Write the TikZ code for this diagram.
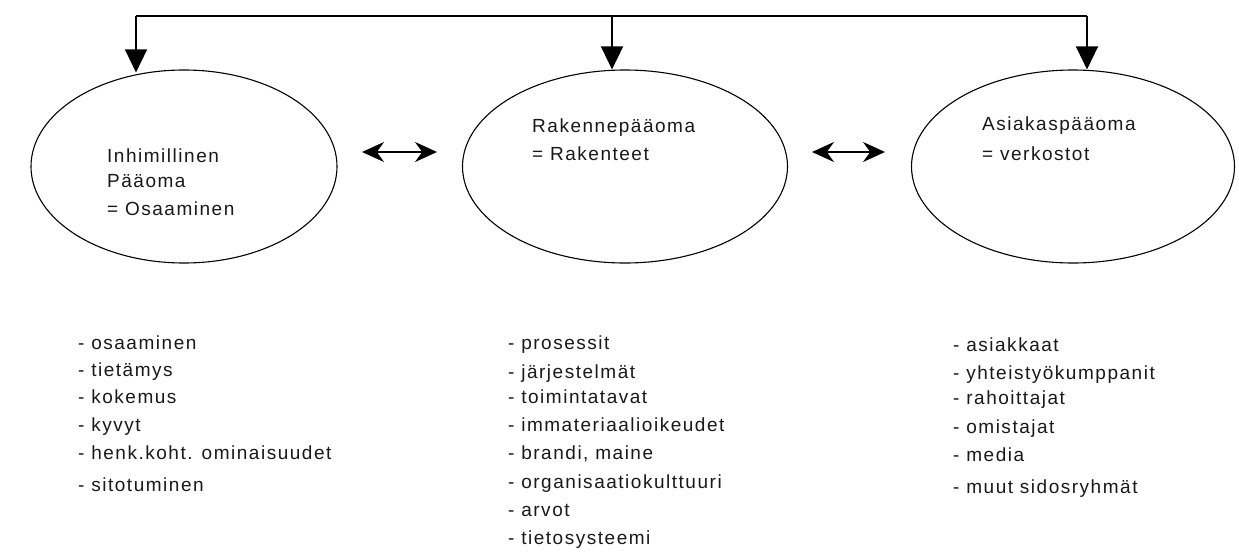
\documentclass[tikz,border=0pt]{standalone}
\usepackage{fontspec}
\setmainfont[LetterSpace=8]{Liberation Sans}
\usetikzlibrary{shapes.geometric,arrows.meta}
\tikzset{
  oval/.style={draw=black, line width=1.1pt, ellipse, inner sep=0pt, minimum width=#1, minimum height=193pt},
  txt/.style={anchor=base west, inner sep=0pt, font=\fontsize{19}{23}\selectfont, text=black!90},
  downarrow/.style={line width=1.3pt, -{Triangle[width=22pt,length=23pt]}},
  twoway/.style={line width=2pt, {Stealth[length=22pt,width=20pt]}-{Stealth[length=22pt,width=20pt]}},
  topline/.style={line width=1.3pt}
}
\begin{document}
\begin{tikzpicture}[x=1pt,y=-1pt]
\useasboundingbox[fill=white] (0,0) rectangle (1239,552);
% ellipses
\node[oval=306pt] (e1) at (184,166.5) {};
\node[oval=325pt] (e2) at (625,166.5) {};
\node[oval=323pt] (e3) at (1073,166.5) {};
% top distribution line
\coordinate (c1) at (136,16);
\coordinate (c2) at (612,16);
\coordinate (c3) at (1087,16);
\draw[topline] (c1) -- (c3);
\draw[downarrow] (c1) -- ([yshift=-3pt]c1 |- e1.north);
\draw[downarrow] (c2) -- (c2 |- e2.north);
\draw[downarrow] (c3) -- (c3 |- e3.north);
% two-way arrows
\coordinate (d1a) at (362,152);
\coordinate (d1b) at (437,152);
\coordinate (d2a) at (812,152);
\coordinate (d2b) at (885,152);
\draw[twoway] (d1a) -- (d1b);
\draw[twoway] (d2a) -- (d2b);
% ellipse texts
\node[txt] (t11) at (107,162) {Inhimillinen};
\node[txt] (t12) at (107,187) {Pääoma};
\node[txt] (t13) at (107,215) {= Osaaminen};
\node[txt] (t21) at (532,132) {Rakennepääoma};
\node[txt] (t22) at (532,160) {= Rakenteet};
\node[txt] (t31) at (982,130) {Asiakaspääoma};
\node[txt] (t32) at (982,160) {= verkostot};
% lists
\foreach \y/\t [count=\i] in {349/{- osaaminen},376/{- tietämys},403/{- kokemus},431/{- kyvyt},459/{- henk.koht. ominaisuudet},491/{- sitotuminen}}
  \node[txt] (a\i) at (78,\y) {\t};
\foreach \y/\t [count=\i] in {349/{- prosessit},378/{- järjestelmät},403/{- toimintatavat},431/{- immateriaalioikeudet},459/{- brandi, maine},488/{- organisaatiokulttuuri},516/{- arvot},544/{- tietosysteemi}}
  \node[txt] (b\i) at (508,\y) {\t};
\foreach \y/\t [count=\i] in {351/{- asiakkaat},379/{- yhteistyökumppanit},404/{- rahoittajat},433/{- omistajat},461/{- media},493/{- muut sidosryhmät}}
  \node[txt] (c\i) at (953,\y) {\t};
\end{tikzpicture}
\end{document}
